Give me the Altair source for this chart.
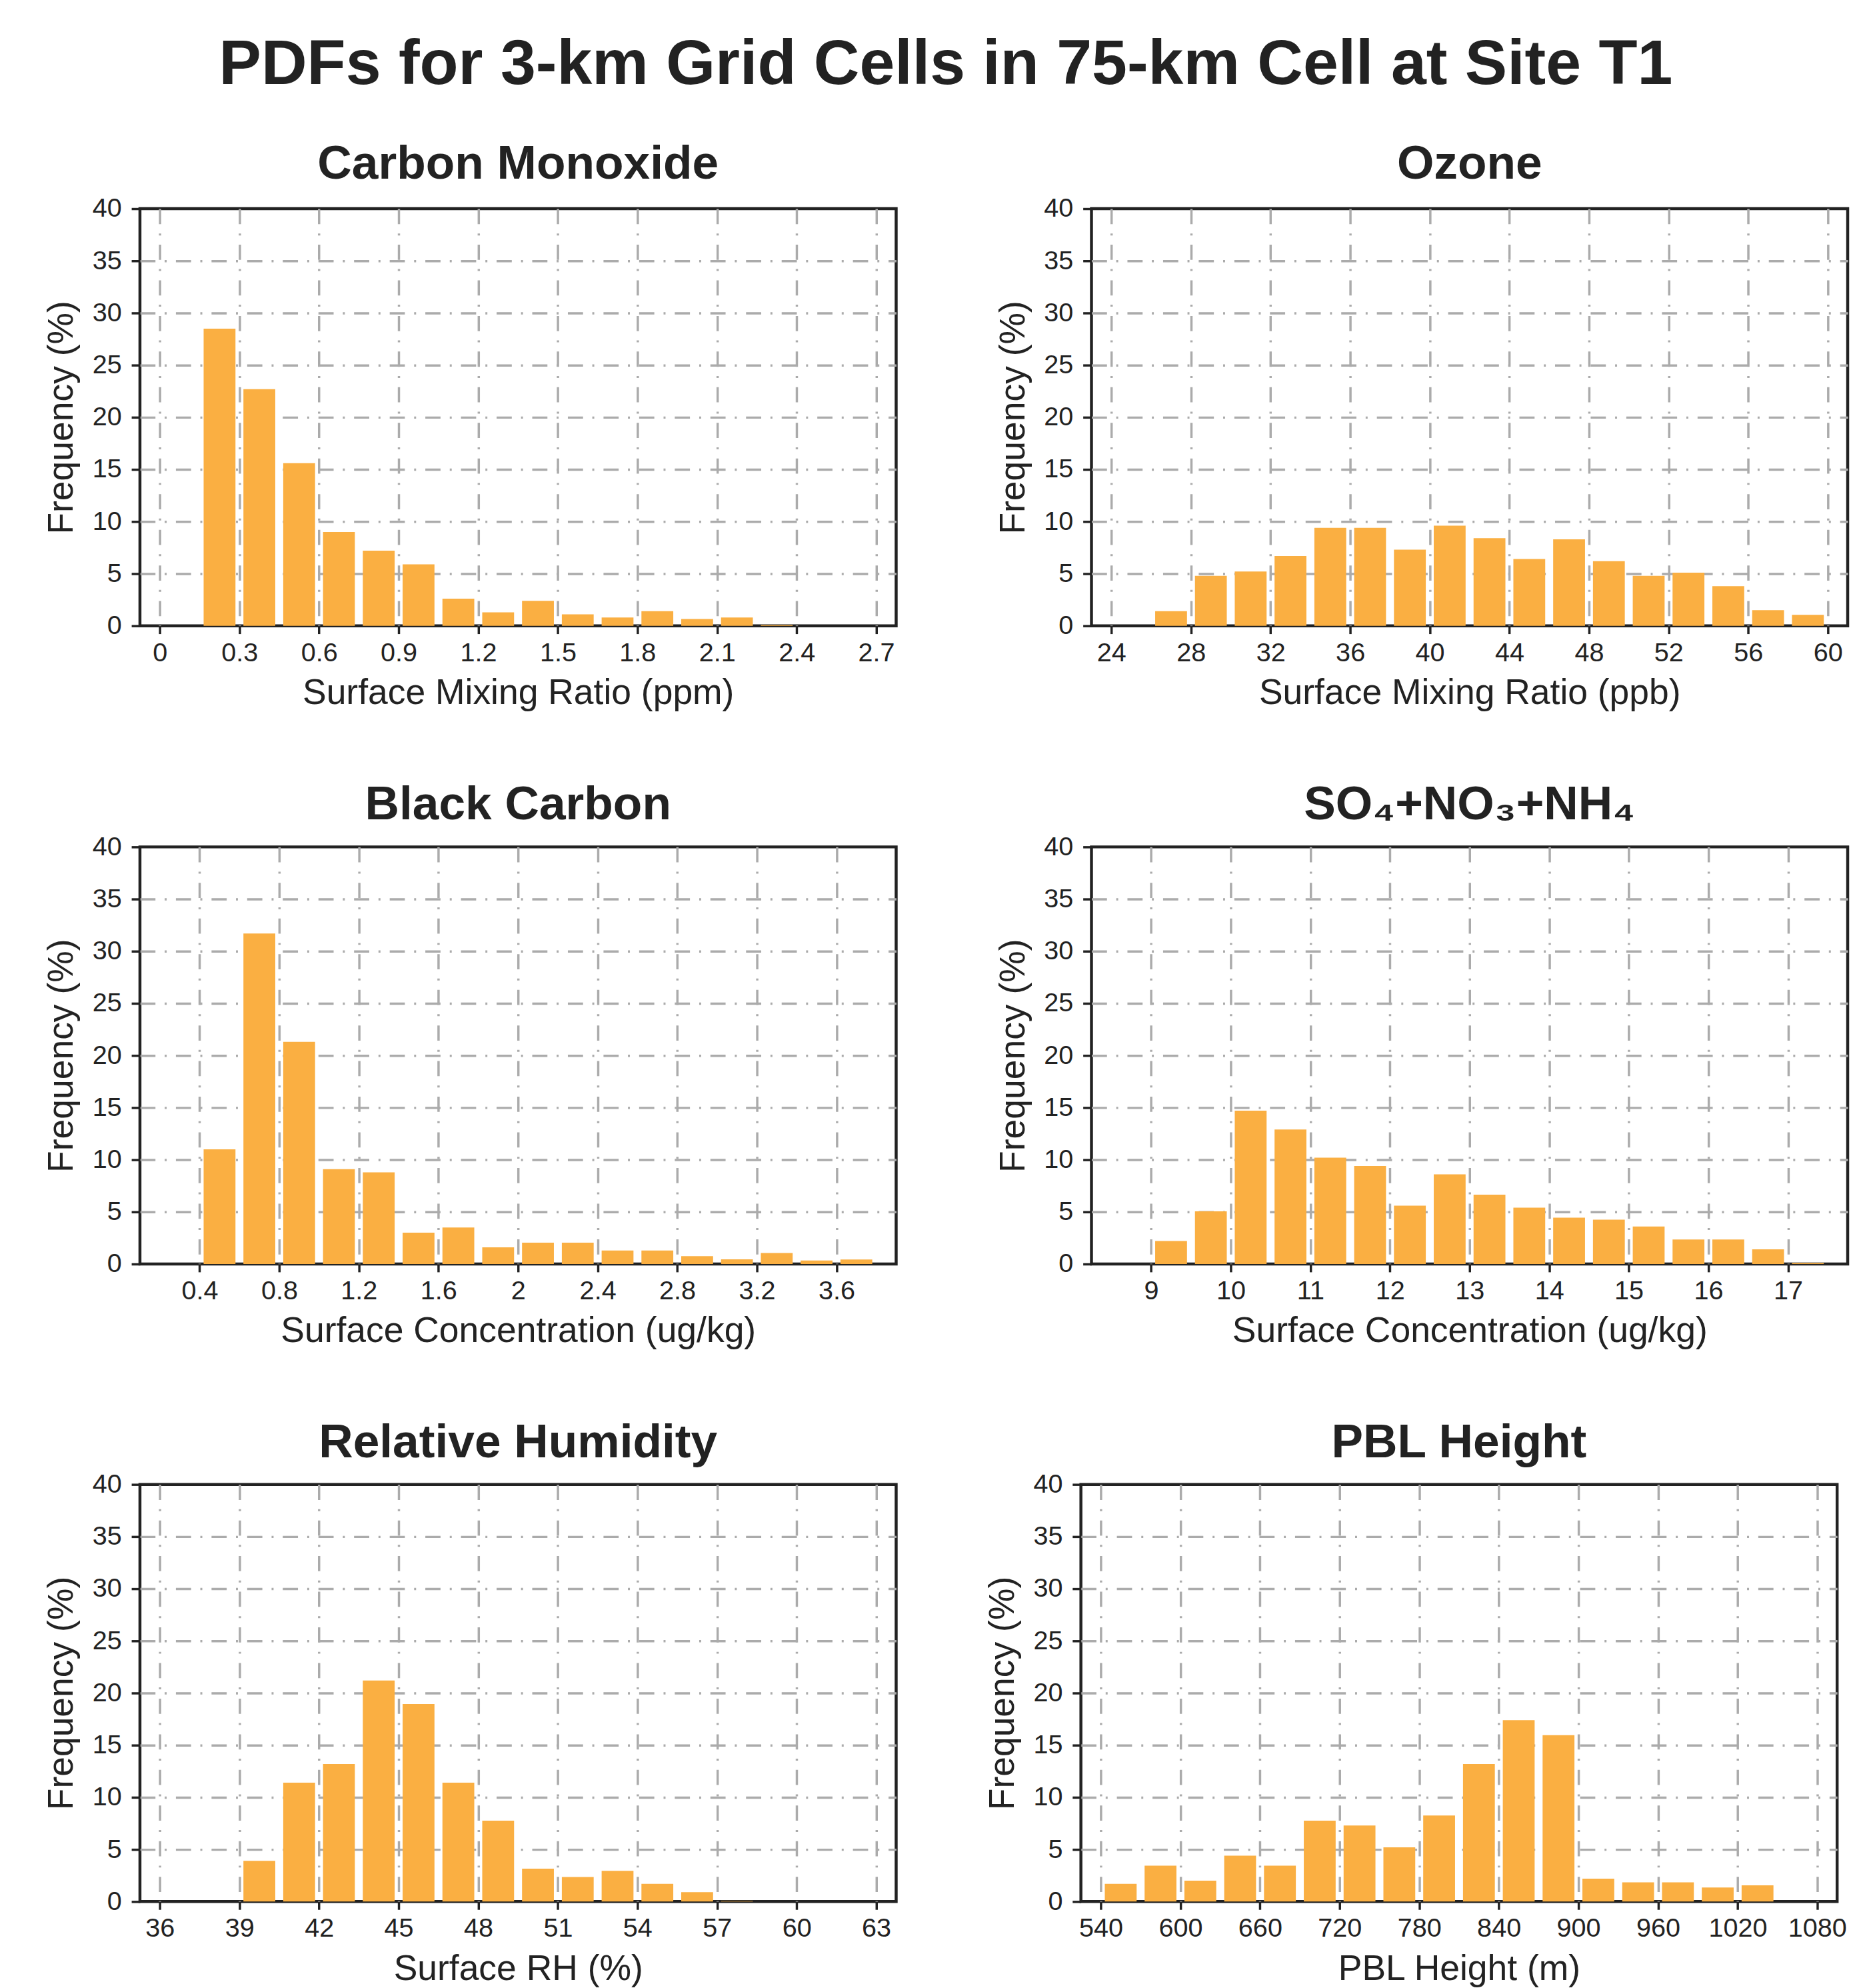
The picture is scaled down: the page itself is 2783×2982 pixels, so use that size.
import altair as alt
import pandas as pd

MAIN_TITLE = "PDFs for 3-km Grid Cells in 75-km Cell at Site T1"
Y_TITLE = "Frequency (%)"

panel_titles = ["Carbon Monoxide", "Ozone", "Black Carbon",
                "SO\u2084+NO\u2083+NH\u2084", "Relative Humidity", "PBL Height"]
x_titles = ["Surface Mixing Ratio (ppm)", "Surface Mixing Ratio (ppb)",
            "Surface Concentration (ug/kg)", "Surface Concentration (ug/kg)",
            "Surface RH (%)", "PBL Height (m)"]

# bin centres and frequencies (%)
co_x = [0.225, 0.375, 0.525, 0.675, 0.825, 0.975, 1.125, 1.275, 1.425, 1.575,
        1.725, 1.875, 2.025, 2.175, 2.325]
co_y = [28.5, 22.7, 15.6, 9.0, 7.2, 5.9, 2.6, 1.3, 2.4, 1.1, 0.8, 1.4, 0.65, 0.8, 0.08]
co_bin = 0.15
co_dom = [-0.075, 2.775]
co_ticks = [0, 0.3, 0.6, 0.9, 1.2, 1.5, 1.8, 2.1, 2.4, 2.7]

o3_x = [27, 29, 31, 33, 35, 37, 39, 41, 43, 45, 47, 49, 51, 53, 55, 57, 59]
o3_y = [1.4, 4.8, 5.2, 6.7, 9.4, 9.4, 7.3, 9.6, 8.4, 6.4, 8.3, 6.2, 4.8, 5.1, 3.8, 1.5, 1.05]
o3_bin = 2
o3_dom = [23, 61]
o3_ticks = [24, 28, 32, 36, 40, 44, 48, 52, 56, 60]

bc_x = [0.5, 0.7, 0.9, 1.1, 1.3, 1.5, 1.7, 1.9, 2.1, 2.3, 2.5, 2.7, 2.9, 3.1, 3.3, 3.5, 3.7]
bc_y = [11.0, 31.7, 21.3, 9.1, 8.8, 3.0, 3.5, 1.6, 2.05, 2.05, 1.3, 1.3, 0.75, 0.45, 1.05, 0.33, 0.44]
bc_bin = 0.2
bc_dom = [0.1, 3.9]
bc_ticks = [0.4, 0.8, 1.2, 1.6, 2, 2.4, 2.8, 3.2, 3.6]

sn_x = [9.25, 9.75, 10.25, 10.75, 11.25, 11.75, 12.25, 12.75, 13.25, 13.75,
        14.25, 14.75, 15.25, 15.75, 16.25, 16.75, 17.25]
sn_y = [2.2, 5.05, 14.7, 12.9, 10.2, 9.4, 5.6, 8.6, 6.65, 5.4, 4.45, 4.25, 3.6,
        2.35, 2.35, 1.4, 0.1]
sn_bin = 0.5
sn_dom = [8.25, 17.75]
sn_ticks = [9, 10, 11, 12, 13, 14, 15, 16, 17]

rh_x = [39.75, 41.25, 42.75, 44.25, 45.75, 47.25, 48.75, 50.25, 51.75, 53.25,
        54.75, 56.25, 57.75]
rh_y = [3.9, 11.4, 13.2, 21.2, 18.95, 11.4, 7.75, 3.15, 2.35, 2.95, 1.7, 0.9, 0.06]
rh_bin = 1.5
rh_dom = [35.25, 63.75]
rh_ticks = [36, 39, 42, 45, 48, 51, 54, 57, 60, 63]

pbl_x = [555, 585, 615, 645, 675, 705, 735, 765, 795, 825, 855, 885, 915, 945,
         975, 1005, 1035]
pbl_y = [1.7, 3.45, 2.0, 4.4, 3.45, 7.75, 7.3, 5.2, 8.25, 13.2, 17.4, 15.95, 2.2,
         1.85, 1.85, 1.35, 1.55]
pbl_bin = 30
pbl_dom = [525, 1095]
pbl_ticks = [540, 600, 660, 720, 780, 840, 900, 960, 1020, 1080]

y_ticks = [0, 5, 10, 15, 20, 25, 30, 35, 40]

FONT = "Liberation Sans"
INK = "#222222"
BAR = "#FAAF42"
W, H = 1146, 632


def panel(xs, ys, binw, dom, ticks, title, xtitle, toff):
    df = pd.DataFrame({"c": xs, "f": ys})
    half = 0.4 * binw
    return (
        alt.Chart(df)
        .transform_calculate(lo=f"datum.c - {half}", hi=f"datum.c + {half}")
        .mark_rect(color=BAR)
        .encode(
            x=alt.X("lo:Q",
                    scale=alt.Scale(domain=dom, nice=False, zero=False),
                    axis=alt.Axis(values=ticks, title=xtitle,
                                  labelExpr="'' + datum.value",
                                  tickSize=12, labelPadding=9, titlePadding=14,
                                  labelFlush=False, labelOverlap=False)),
            x2="hi:Q",
            y=alt.Y("f:Q",
                    scale=alt.Scale(domain=[0, 40], nice=False),
                    axis=alt.Axis(values=y_ticks, title=Y_TITLE,
                                  tickSize=13, labelPadding=15, titlePadding=19,
                                  labelOverlap=False,
                                  gridOpacity=alt.condition(
                                      "datum.value == 0 || datum.value == 40",
                                      alt.value(0), alt.value(1)))),
            y2=alt.datum(0),
        )
        .properties(
            width=W, height=H,
            title=alt.TitleParams(text=title, font=FONT, fontSize=72,
                                  fontWeight="bold", color=INK,
                                  anchor="middle", frame="group", offset=toff),
        )
    )


p1 = panel(co_x, co_y, co_bin, co_dom, co_ticks, panel_titles[0], x_titles[0], 11)
p2 = panel(o3_x, o3_y, o3_bin, o3_dom, o3_ticks, panel_titles[1], x_titles[1], 11)
p3 = panel(bc_x, bc_y, bc_bin, bc_dom, bc_ticks, panel_titles[2], x_titles[2], 7)
p4 = panel(sn_x, sn_y, sn_bin, sn_dom, sn_ticks, panel_titles[3], x_titles[3], 7)
p5 = panel(rh_x, rh_y, rh_bin, rh_dom, rh_ticks, panel_titles[4], x_titles[4], 6)
p6 = panel(pbl_x, pbl_y, pbl_bin, pbl_dom, pbl_ticks, panel_titles[5], x_titles[5], 6)

row1 = alt.hconcat(p1, p2, spacing=145)
row2 = alt.hconcat(p3, p4, spacing=145)
row3 = alt.hconcat(p5, p6, spacing=129)

chart = (
    alt.vconcat(row1, row2, row3, spacing=100)
    .properties(
        title=alt.TitleParams(text=MAIN_TITLE, font=FONT, fontSize=96,
                              fontWeight="bold", color=INK, anchor="middle",
                              offset=63),
        padding={"left": 56, "top": 26, "right": 0, "bottom": 0},
        background="white",
    )
    .configure_view(stroke=INK, strokeWidth=4.5)
    .configure_axis(
        labelFont=FONT, labelFontSize=40, labelColor=INK,
        titleFont=FONT, titleFontSize=54, titleFontWeight="normal",
        titleColor=INK,
        grid=True, gridColor="#ababab", gridWidth=3.5, gridDash=[23, 14, 3, 14],
        domain=False, ticks=True, tickColor=INK, tickWidth=3.5,
    )
)

chart.save("out.html", embed_options={"renderer": "svg", "actions": False})
